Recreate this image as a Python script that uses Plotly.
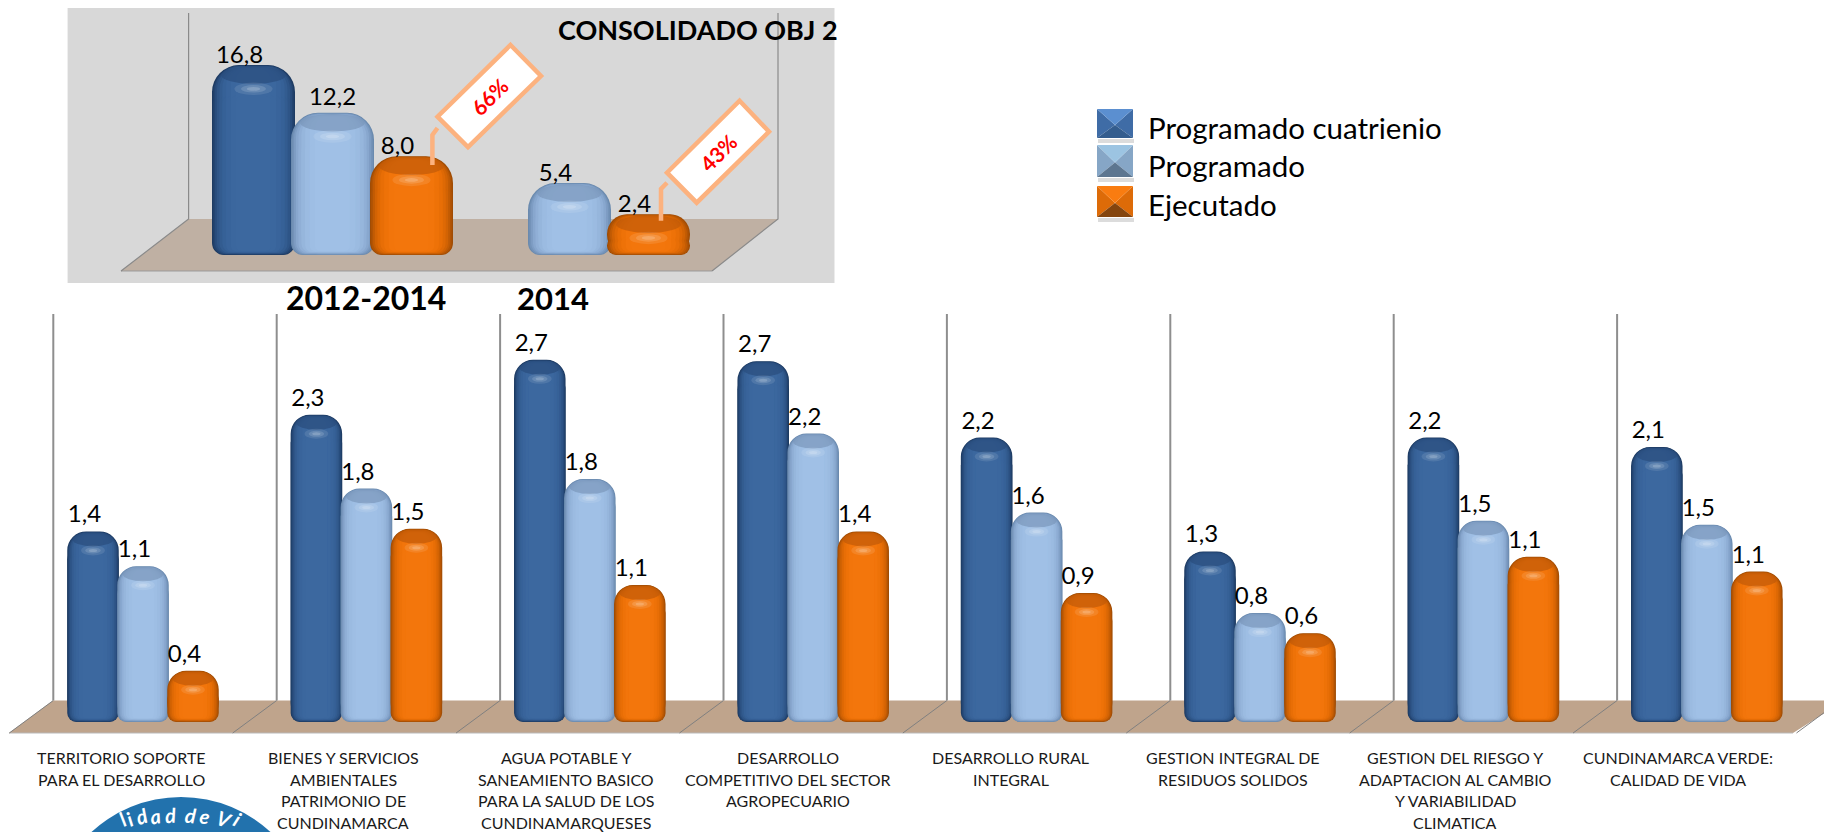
import plotly.graph_objects as go

# ---------- data ----------
series_names = ["Programado cuatrienio", "Programado", "Ejecutado"]

group_years = ["2012-2014", "2014"]
consol_prog_cuat = [16.8, None]
consol_prog = [12.2, 5.4]
consol_ejec = [8.0, 2.4]
consol_pct = ["66%", "43%"]
consol_title = "CONSOLIDADO OBJ 2"

categories = [
    ["TERRITORIO SOPORTE", "PARA EL DESARROLLO"],
    ["BIENES Y SERVICIOS", "AMBIENTALES", "PATRIMONIO DE", "CUNDINAMARCA"],
    ["AGUA POTABLE Y", "SANEAMIENTO BASICO", "PARA LA SALUD DE LOS", "CUNDINAMARQUESES"],
    ["DESARROLLO", "COMPETITIVO DEL SECTOR", "AGROPECUARIO"],
    ["DESARROLLO RURAL", "INTEGRAL"],
    ["GESTION INTEGRAL DE", "RESIDUOS SOLIDOS"],
    ["GESTION DEL RIESGO Y", "ADAPTACION AL CAMBIO", "Y VARIABILIDAD", "CLIMATICA"],
    ["CUNDINAMARCA VERDE:", "CALIDAD DE VIDA"],
]
prog_cuat = [1.43, 2.30, 2.71, 2.70, 2.13, 1.28, 2.13, 2.06]
prog = [1.17, 1.75, 1.82, 2.16, 1.57, 0.82, 1.51, 1.48]
ejec = [0.39, 1.45, 1.03, 1.43, 0.97, 0.67, 1.24, 1.13]
prog_cuat_labels = ["1,4", "2,3", "2,7", "2,7", "2,2", "1,3", "2,2", "2,1"]
prog_labels = ["1,1", "1,8", "1,8", "2,2", "1,6", "0,8", "1,5", "1,5"]
ejec_labels = ["0,4", "1,5", "1,1", "1,4", "0,9", "0,6", "1,1", "1,1"]

# ---------- style / geometry ----------
W, H = 1824, 832
FONT = "Lato"
BLUE = ["#1e3b62", "#234470", "#294d7d", "#2e5587", "#335c90", "#366197", "#39649b", "#3b679e", "#3c689f"]
LIGHT = ["#6a8aae", "#7493b9", "#7e9dc4", "#88a7ce", "#90afd6", "#96b6dc", "#9bbbe1", "#9ebee4", "#a0c0e6"]
ORANGE = ["#a04c04", "#b25404", "#c35c04", "#d26304", "#de6905", "#e86e06", "#ee7208", "#f2750b", "#f3760c"]
CAPS = ["#2a4d7d", "#7a97bb", "#c05a08"]
LAYER_W = [1.0, 0.965, 0.925, 0.88, 0.82, 0.75, 0.66, 0.55, 0.42]
LAYER_IN = [0, 0.5, 1, 1.5, 2, 2.5, 3, 3.5, 4]


def px(x):
    return x / W


def py(y):
    return 1 - y / H


# lower chart scales
L_UNIT, L_X0 = 223.4, 121.0
LABEL_STEP = 222.4 / L_UNIT
L_SHIFT = 22.0 / L_UNIT
L_STEP, L_BAR = 50.0 / L_UNIT, 51.5 / L_UNIT
L_SY, L_Y0, L_TOP, L_BOT = 134.0, 723.0, 300.0, 832.0
L_BASE = (L_Y0 - 722.0) / L_SY

# upper chart scales
U_LEFT, U_RIGHT = 67.6, 834.5
U_UNIT, U_X0 = 237.0, 332.5
U_STEP, U_BAR = 79.0 / U_UNIT, 83.0 / U_UNIT
U_SY, U_Y0, U_TOP, U_BOT = 10.35, 239.0, 8.0, 283.0
U_BASE = (U_Y0 - 255.0) / U_SY

fig = go.Figure()
shapes = []
ann = []


def pill(xs, tops, base, colors, bw, sy, xa, ya, radius, rad_bot):
    # a bar with an explicit base is rounded at both ends: one bar gives the dome,
    # a second one that stops below the dome gives the flatter foot
    for width, inset, col in zip(LAYER_W, LAYER_IN, colors):
        xx, b0, full, foot = [], [], [], []
        for x, t in zip(xs, tops):
            if t is None:
                continue
            top = t - inset / sy
            bot = base + inset / sy
            xx.append(x)
            b0.append(bot)
            full.append(top - bot)
            foot.append(max(top - bot - radius / sy, (top - bot) * 0.45))
        for vals, r in ((full, radius), (foot, rad_bot)):
            fig.add_trace(go.Bar(
                x=xx, y=vals, base=b0, width=bw * width, xaxis=xa, yaxis=ya,
                marker=dict(color=col, line=dict(width=0), cornerradius=r * width),
                showlegend=False, hoverinfo="skip"))


def caps(xs, tops, bw, sy, xr, yr, color, unit, scale=1.0):
    for x, t in zip(xs, tops):
        if t is None:
            continue
        def ell(wf, y0, y1, c, op):
            shapes.append(dict(type="circle", xref=xr, yref=yr, layer="above",
                               x0=x - bw * wf / 2, x1=x + bw * wf / 2,
                               y0=t - y0 * scale / sy, y1=t - y1 * scale / sy,
                               fillcolor=c, opacity=op, line=dict(width=0)))
        ell(0.78, 1, 15, color, 0.7)
        ell(0.46, 14, 24, "#ffffff", 0.10)
        ell(0.30, 16, 22, "#ffffff", 0.14)
        ell(0.16, 17.5, 20.5, "#ffffff", 0.18)


def line(pts, color, width):
    d = "M" + " L".join(f"{px(a):.5f},{py(b):.5f}" for a, b in pts)
    shapes.append(dict(type="path", xref="paper", yref="paper", path=d, layer="below",
                       line=dict(color=color, width=width)))


def poly(pts, fill, layer="below", lw=0, lc="rgba(0,0,0,0)"):
    d = "M" + " L".join(f"{px(a):.5f},{py(b):.5f}" for a, b in pts) + " Z"
    shapes.append(dict(type="path", xref="paper", yref="paper", path=d, layer=layer,
                       fillcolor=fill, line=dict(width=lw, color=lc)))


def text(x, y, s, size, color="#000000", bold=False, angle=0, anchor="center", family=FONT,
         italic=False):
    ann.append(dict(xref="paper", yref="paper", x=px(x), y=py(y), text=s, showarrow=False,
                    xanchor=anchor, yanchor="middle", textangle=angle,
                    font=dict(family=family, size=size, color=color,
                              weight="bold" if bold else "normal",
                              style="italic" if italic else "normal")))


# ---------- upper panel background ----------
poly([(U_LEFT, U_TOP), (U_RIGHT, U_TOP), (U_RIGHT, U_BOT), (U_LEFT, U_BOT)], "#d8d8d8")
poly([(188.6, 219), (778, 219), (712, 271), (121, 271)], "#bfb0a3")
line([(121, 271), (712, 271)], "#9a9a9a", 1)
line([(121, 271), (188.6, 219), (188.6, 13)], "#8a8a8a", 1.2)
line([(712, 271), (778, 219), (778, 13)], "#8a8a8a", 1.2)

# ---------- lower floor and walls ----------
poly([(53, 700.5), (1845, 700.5), (1793, 733), (9, 733)], "#bfa48c")
line([(9, 733), (1793, 733)], "#b9b9b9", 1)
for i in range(9):
    fx = L_X0 - L_UNIT / 2 + i * L_UNIT
    bx = fx + 44
    line([(fx, 733), (bx, 700.5)], "#808080", 1)
    if i < 8:
        line([(bx, 700.5), (bx, 314)], "#8e8e8e", 2)

# ---------- lower bars ----------
lower_all = [prog_cuat, prog, ejec]
lower_lab = [prog_cuat_labels, prog_labels, ejec_labels]
for s, (vals, labs, cols) in enumerate(zip(lower_all, lower_lab, (BLUE, LIGHT, ORANGE))):
    xs = [i + L_SHIFT + (s - 1) * L_STEP for i in range(len(vals))]
    pill(xs, vals, L_BASE, cols, L_BAR, L_SY, "x", "y", 19, 9)
    caps(xs, vals, L_BAR, L_SY, "x", "y", CAPS[s], L_UNIT)
    fig.add_trace(go.Scatter(
        x=[a - 8.5 / L_UNIT for a in xs], y=[v + 3 / L_SY for v in vals], text=labs,
        mode="text", textposition="top center", xaxis="x", yaxis="y", showlegend=False,
        textfont=dict(family=FONT, size=24, color="#000000"), hoverinfo="skip", cliponaxis=False))

# ---------- upper bars ----------
upper_all = [consol_prog_cuat, consol_prog, consol_ejec]
for s, (vals, cols) in enumerate(zip(upper_all, (BLUE, LIGHT, ORANGE))):
    xs = [i + (s - 1) * U_STEP for i in range(2)]
    pill(xs, vals, U_BASE, cols, U_BAR, U_SY, "x2", "y2", 27, 12)
    caps(xs, vals, U_BAR, U_SY, "x2", "y2", CAPS[s], U_UNIT, scale=1.25)
    keep = [(a, v) for a, v in zip(xs, vals) if v is not None]
    fig.add_trace(go.Scatter(
        x=[a - (14 / U_UNIT if v != 12.2 else 0) for a, v in keep],
        y=[v + (-4 if v != 12.2 else 2) / U_SY for a, v in keep],
        text=[f"{v:.1f}".replace(".", ",") for a, v in keep],
        mode="text", textposition="top center", xaxis="x2", yaxis="y2", showlegend=False,
        textfont=dict(family=FONT, size=24, color="#000000"), hoverinfo="skip", cliponaxis=False))

# ---------- callouts ----------
CALL = "#fcb27f"
call_rects = [
    [(510.5, 45), (541, 76), (468, 147), (437.5, 116.7)],
    [(739.6, 100.7), (769, 131.7), (696.7, 202.7), (667, 172.7)],
]
call_lead = [
    [(432.4, 165), (432.4, 135), (437.5, 128)],
    [(661, 220.7), (661, 189), (667, 182.7)],
]
call_text = [(489.5, 97), (718, 152)]
for r, l, t, pct in zip(call_rects, call_lead, call_text, consol_pct):
    d = "M" + " L".join(f"{px(a):.5f},{py(b):.5f}" for a, b in l)
    shapes.append(dict(type="path", xref="paper", yref="paper", path=d, layer="above",
                       line=dict(color=CALL, width=4.5)))
    poly(r, "#ffffff", layer="above", lw=4.5, lc=CALL)
    text(t[0], t[1], pct, 21, color="#ff0000", bold=True, angle=-45)

# ---------- titles and group labels ----------
text(698, 30, consol_title, 27, bold=True)
text(366, 298, group_years[0], 32, bold=True)
text(553, 298, group_years[1], 31, bold=True)

# ---------- category labels ----------
CAT_Y = [757, 779, 800.5, 822]
for i, lines in enumerate(categories):
    for j, s in enumerate(lines):
        ann.append(dict(xref="x", yref="paper", x=i * LABEL_STEP, y=py(CAT_Y[j]), text=s,
                        showarrow=False, xanchor="center", yanchor="middle",
                        font=dict(family=FONT, size=16, color="#1a1a1a")))

# ---------- legend ----------
legend_boxes = [(1097, 109, 1133, 138), (1097, 145, 1133, 177), (1097, 186, 1133, 217)]
legend_cols = [
    ("#5b8fd0", "#3f6ca6", "#345d8e"),
    ("#9cc4e2", "#86a6c6", "#5d7690"),
    ("#f97c10", "#dd6b08", "#84450e"),
]
legend_y = [127, 165, 204]
for (a, b, c, d_), (top, side, bottom), name, ly in zip(legend_boxes, legend_cols, series_names, legend_y):
    poly([(a + 1, d_ + 1), (c + 1, d_ + 1), (c + 1, d_ + 5), (a + 1, d_ + 5)], "#dcdcdc")
    mx, my = (a + c) / 2, b + (d_ - b) * 0.55
    poly([(a, b), (a, d_), (mx, my)], side, layer="above")
    poly([(c, b), (c, d_), (mx, my)], side, layer="above")
    poly([(a, b), (c, b), (mx, my)], top, layer="above")
    poly([(a, d_), (c, d_), (mx, my)], bottom, layer="above")
    text(1146, ly, name, 29.5, anchor="left")

# ---------- logo fragment ----------
shapes.append(dict(type="circle", xref="paper", yref="paper", layer="above",
                   x0=px(181 - 132), x1=px(181 + 132), y0=py(797), y1=py(797 + 264),
                   fillcolor="#2272ad", line=dict(width=0)))
logo_letters = list("lidad de Vi")
logo_xy = [(122, 819), (129, 819), (141, 816), (155, 816), (170, 815), (0, 0), (190, 815),
           (205, 816), (0, 0), (224, 819), (238, 819)]
logo_rot = [-28, -24, -18, -10, -4, 0, 6, 12, 0, 20, 26]
for ch, (a, b), rot in zip(logo_letters, logo_xy, logo_rot):
    if ch != " ":
        text(a, b, ch, 20, color="#ffffff", angle=rot, bold=True, italic=True)

# ---------- layout ----------
hidden = dict(visible=False, fixedrange=True)
fig.update_layout(
    width=W, height=H, autosize=False, margin=dict(l=0, r=0, t=0, b=0, pad=0),
    paper_bgcolor="#ffffff", plot_bgcolor="rgba(0,0,0,0)", barmode="overlay",
    showlegend=False, shapes=shapes, annotations=ann, hovermode=False,
    xaxis=dict(hidden, domain=[0, 1], range=[(0 - L_X0) / L_UNIT, (W - L_X0) / L_UNIT]),
    yaxis=dict(hidden, domain=[1 - L_BOT / H, 1 - L_TOP / H],
               range=[(L_Y0 - L_BOT) / L_SY, (L_Y0 - L_TOP) / L_SY]),
    xaxis2=dict(hidden, domain=[px(U_LEFT), px(U_RIGHT)],
                range=[(U_LEFT - U_X0) / U_UNIT, (U_RIGHT - U_X0) / U_UNIT]),
    yaxis2=dict(hidden, domain=[1 - U_BOT / H, 1 - U_TOP / H],
                range=[(U_Y0 - U_BOT) / U_SY, (U_Y0 - U_TOP) / U_SY]),
)
fig.write_html("out.html", config=dict(displayModeBar=False),
               post_script="document.body.style.margin='0';")
